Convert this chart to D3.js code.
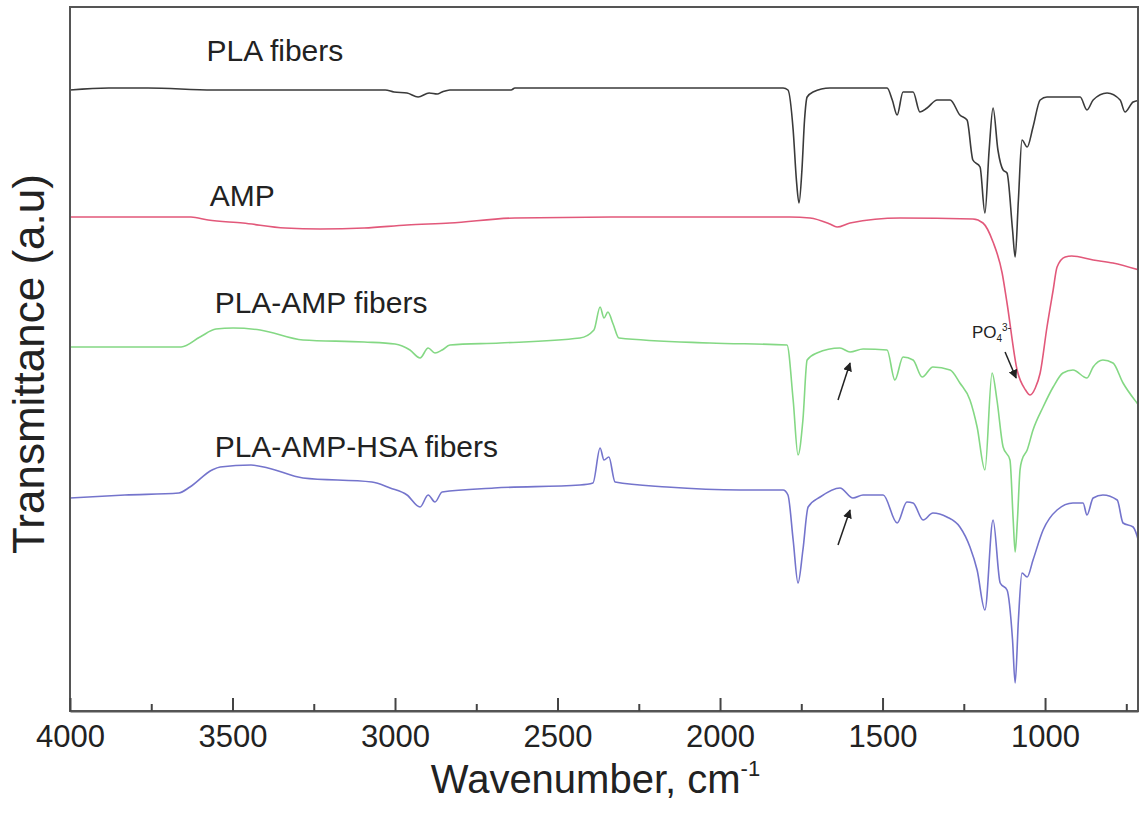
<!DOCTYPE html>
<html>
<head>
<meta charset="utf-8">
<script src="https://cdn.jsdelivr.net/npm/d3@7"></script>
<style>
	body { margin: 0; background: #ffffff; }
	svg text { font-family: "Liberation Sans", Arial, sans-serif; fill: #222; }
</style>
</head>
<body>
<div id="chart"></div>
<script>

// FTIR spectra, wavenumber (cm-1) and transmittance (a.u., curves offset)
var plaFibers = [
	[4000,621],[3881,623],[3760,623],[3560,621],[3030,621],[3003,619],[2963,618],[2929,614],[2895,618],
	[2870,617],[2855,619],[2831,621],[2643,621],[2631,623],[1938,623],[1806,623],[1791,621],[1775,581],
	[1765,531],[1757,508],[1748,541],[1740,591],[1732,614],[1714,619],[1662,623],[1486,623],[1470,611],
	[1455,596],[1437,619],[1406,619],[1385,599],[1363,603],[1332,611],[1292,611],[1262,596],[1240,591],
	[1222,551],[1200,544],[1185,498],[1172,561],[1160,603],[1145,561],[1129,541],[1117,538],[1100,481],
	[1092,454],[1082,511],[1071,571],[1055,564],[1037,584],[1015,611],[994,614],[892,614],[871,601],
	[852,611],[809,618],[769,611],[754,599],[729,609],[705,611]
]

var amp = [
	[4000,494],[3628,494],[3575,491],[3468,488],[3338,483],[3230,482],[3095,483],[2963,486],[2831,488],
	[2631,493],[2295,494],[1785,494],[1723,493],[1662,487],[1640,484],[1600,488],[1446,493],[1222,492],
	[1191,488],[1160,469],[1132,438],[1117,408],[1086,341],[1060,321],[1046,316],[1030,323],[1015,338],
	[994,384],[975,421],[963,444],[938,454],[918,455],[852,451],[791,448],[711,441]
]

var plaAmpFibers = [
	[4000,364],[3831,364],[3658,364],[3600,374],[3551,382],[3498,383],[3415,381],[3283,371],[3095,369],
	[3000,367],[2954,361],[2923,353],[2898,363],[2877,358],[2855,361],[2831,366],[2677,368],[2431,373],
	[2388,381],[2369,404],[2357,393],[2345,399],[2329,387],[2311,373],[2031,368],[1794,366],[1775,311],
	[1760,256],[1745,291],[1732,351],[1702,358],[1631,363],[1600,359],[1560,362],[1486,361],[1462,331],
	[1437,354],[1406,351],[1378,334],[1345,344],[1292,341],[1262,328],[1231,311],[1209,284],[1185,241],
	[1163,338],[1148,311],[1129,264],[1108,251],[1098,191],[1092,159],[1085,191],[1077,241],[1071,251],
	[1055,261],[1037,281],[1006,304],[975,324],[945,338],[914,341],[871,333],[852,344],[822,351],
	[791,348],[760,328],[717,308],[705,303]
]

var plaAmpHsaFibers = [
	[4000,213],[3831,216],[3665,218],[3631,224],[3563,241],[3538,244],[3443,246],[3391,243],[3283,233],
	[3071,229],[3015,223],[2963,216],[2923,204],[2898,216],[2877,209],[2855,219],[2695,223],[2431,226],
	[2391,228],[2369,263],[2357,251],[2342,254],[2323,229],[2163,224],[1938,221],[1806,221],[1791,216],
	[1775,171],[1760,128],[1745,161],[1729,204],[1692,214],[1631,223],[1591,213],[1560,216],[1498,216],
	[1455,188],[1425,209],[1406,208],[1375,191],[1345,198],[1302,194],[1262,184],[1231,164],[1209,141],
	[1185,101],[1160,191],[1138,128],[1117,121],[1100,71],[1092,28],[1082,91],[1071,138],[1055,134],
	[1037,151],[1006,181],[963,201],[914,208],[883,208],[871,196],[852,213],[822,216],[778,211],
	[760,188],[729,184],[705,161]
]

var seriesNames  = ['PLA fibers', 'AMP', 'PLA-AMP fibers', 'PLA-AMP-HSA fibers']
var seriesColors = ['#3a3a3a', '#e2587a', '#84d884', '#7474cc']
var seriesData   = [plaFibers, amp, plaAmpFibers, plaAmpHsaFibers]
// label anchor: wavenumber, transmittance
var labelPos     = [[3580,650], [3570,505], [3555,398], [3555,254]]

var xTicks      = [4000, 3500, 3000, 2500, 2000, 1500, 1000]
var xMinorTicks = [3750, 3250, 2750, 2250, 1750, 1250, 750]

// arrows: [tail wn, tail T, head wn, head T]
var arrows = [
	[1637,311, 1600,348],
	[1637,166, 1600,201],
	[1123,359, 1089,333]
]


var W = 1139, H = 814
var margin = {left: 70, top: 7, right: 1, bottom: 103}

var svg = d3.select('#chart')
	.append('svg')
	.attr('width', W)
	.attr('height', H)

var x = d3.scaleLinear()
	.domain([4000, 714])
	.range([margin.left, W - margin.right])

var y = d3.scaleLinear()
	.domain([0, 704])
	.range([H - margin.bottom, margin.top])

svg.append('defs').append('clipPath')
	.attr('id', 'plot-clip')
	.append('rect')
	.attr('x', margin.left).attr('y', margin.top)
	.attr('width', W - margin.right - margin.left)
	.attr('height', H - margin.bottom - margin.top)

svg.append('defs').append('marker')
	.attr('id', 'head')
	.attr('viewBox', '0 0 10 10')
	.attr('refX', 9).attr('refY', 5)
	.attr('markerWidth', 6).attr('markerHeight', 6)
	.attr('orient', 'auto')
	.append('path')
	.attr('d', 'M0,0 L10,5 L0,10 z')
	.attr('fill', '#222')

// points go left to right on screen (wavenumber falls), so monotone-x is fine
var line = d3.line()
	.x(function(d) { return x(d[0]) })
	.y(function(d) { return y(d[1]) })
	.curve(d3.curveMonotoneX)

var curves = svg.append('g').attr('clip-path', 'url(#plot-clip)')

curves.selectAll('.spectrum')
	.data(seriesData)
	.enter()
	.append('path')
	.attr('class', 'spectrum')
	.attr('d', line)
	.attr('fill', 'none')
	.attr('stroke', function(d, i) { return seriesColors[i] })
	.attr('stroke-width', 1.6)
	.attr('stroke-linejoin', 'round')

svg.selectAll('.series-label')
	.data(seriesNames)
	.enter()
	.append('text')
	.attr('class', 'series-label')
	.attr('x', function(d, i) { return x(labelPos[i][0]) })
	.attr('y', function(d, i) { return y(labelPos[i][1]) })
	.attr('font-size', 30)
	.text(function(d) { return d })

// frame
svg.append('rect')
	.attr('x', margin.left).attr('y', margin.top)
	.attr('width', W - margin.right - margin.left)
	.attr('height', H - margin.bottom - margin.top)
	.attr('fill', 'none')
	.attr('stroke', '#555')
	.attr('stroke-width', 2)

// bottom axis, ticks pointing inward
var xAxis = d3.axisBottom(x)
	.tickValues(xTicks)
	.tickSizeInner(-13)
	.tickSizeOuter(0)
	.tickPadding(14)
	.tickFormat(d3.format('d'))

var gx = svg.append('g')
	.attr('transform', 'translate(0,' + (H - margin.bottom) + ')')
	.call(xAxis)

gx.select('.domain').attr('stroke', '#555').attr('stroke-width', 2)
gx.selectAll('.tick line').attr('stroke', '#444').attr('stroke-width', 2)
gx.selectAll('.tick text')
	.attr('font-size', 31)
	.attr('fill', '#222')
	.attr('font-family', '"Liberation Sans", Arial, sans-serif')

var gxMinor = svg.append('g')
	.attr('transform', 'translate(0,' + (H - margin.bottom) + ')')
	.call(d3.axisBottom(x).tickValues(xMinorTicks).tickSizeInner(-7).tickSizeOuter(0).tickFormat(''))

gxMinor.select('.domain').remove()
gxMinor.selectAll('.tick line').attr('stroke', '#444').attr('stroke-width', 2)

// axis titles
var xTitle = svg.append('text')
	.attr('x', x(2500) + 38)
	.attr('y', 793)
	.attr('text-anchor', 'middle')
	.attr('font-size', 40)
xTitle.append('tspan').text('Wavenumber, cm')
xTitle.append('tspan').attr('font-size', 22).attr('dy', -17).text('-1')

svg.append('text')
	.attr('transform', 'translate(44,' + y(347) + ') rotate(-90)')
	.attr('text-anchor', 'middle')
	.attr('font-size', 44)
	.text('Transmittance (a.u)')

// annotations
svg.selectAll('.arrow')
	.data(arrows)
	.enter()
	.append('line')
	.attr('class', 'arrow')
	.attr('x1', function(d) { return x(d[0]) })
	.attr('y1', function(d) { return y(d[1]) })
	.attr('x2', function(d) { return x(d[2]) })
	.attr('y2', function(d) { return y(d[3]) })
	.attr('stroke', '#222')
	.attr('stroke-width', 1.5)
	.attr('marker-end', 'url(#head)')

var po4 = svg.append('text')
	.attr('x', x(1225))
	.attr('y', y(373))
	.attr('font-size', 17)
po4.append('tspan').text('PO')
po4.append('tspan').attr('font-size', 10).attr('dy', 4).text('4')
po4.append('tspan').attr('font-size', 10).attr('dy', -11).text('3-')

</script>
</body>
</html>
